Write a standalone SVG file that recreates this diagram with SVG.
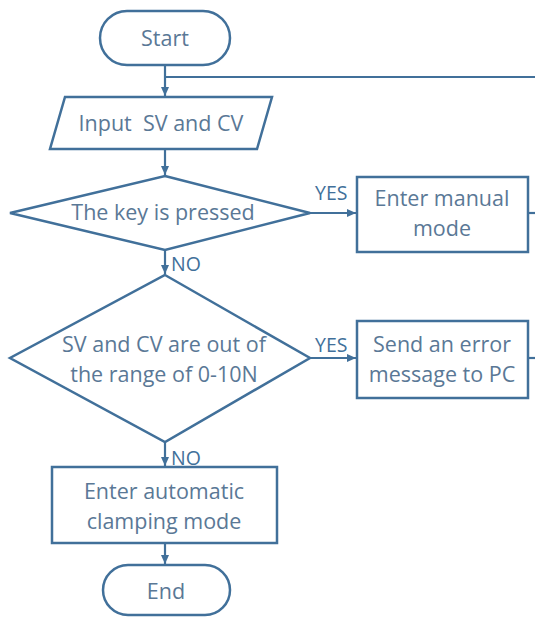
<svg xmlns="http://www.w3.org/2000/svg" width="535" height="617" viewBox="0 0 535 617">
<style>
.s{fill:#fff;stroke:#41709a;stroke-width:2.5}
.c{fill:none;stroke:#41709a;stroke-width:2.2}
.t{font-family:"Open Sans","Liberation Sans",Arial,sans-serif;font-size:21.5px;fill:#5a7896;text-anchor:middle}
.l{font-family:"Open Sans","Liberation Sans",Arial,sans-serif;font-size:19.5px;fill:#41709a}
</style>
<defs>
<marker id="a" markerWidth="10" markerHeight="10" refX="9" refY="5" orient="auto" markerUnits="userSpaceOnUse">
<path d="M0,1 L9,5 L0,9 Z" fill="#41709a"/>
</marker>
</defs>
<g id="connectors">
<line class="c" x1="165" y1="65" x2="165" y2="96" marker-end="url(#a)"/>
<line class="c" x1="165" y1="77" x2="535" y2="77"/>
<line class="c" x1="165" y1="149" x2="165" y2="175" marker-end="url(#a)"/>
<line class="c" x1="310" y1="213" x2="356" y2="213" marker-end="url(#a)"/>
<line class="c" x1="528" y1="213" x2="535" y2="213"/>
<line class="c" x1="165" y1="250" x2="165" y2="274" marker-end="url(#a)"/>
<line class="c" x1="310" y1="358" x2="356" y2="358" marker-end="url(#a)"/>
<line class="c" x1="528" y1="358" x2="535" y2="358"/>
<line class="c" x1="165" y1="442" x2="165" y2="466" marker-end="url(#a)"/>
<line class="c" x1="165" y1="543" x2="165" y2="564" marker-end="url(#a)"/>
<text class="l" x="315" y="200">YES</text>
<text class="l" x="171" y="271">NO</text>
<text class="l" x="315" y="352">YES</text>
<text class="l" x="171" y="465">NO</text>
</g>
<g id="start">
<rect class="s" x="100" y="11" width="130" height="54" rx="27"/>
<text class="t" x="165" y="46">Start</text>
</g>
<g id="input">
<polygon class="s" points="65,97 272,97 257,149 50,149"/>
<text class="t" x="161" y="131" xml:space="preserve">Input  SV and CV</text>
</g>
<g id="key">
<polygon class="s" points="165,176 310,213 165,250 10,213"/>
<text class="t" x="163" y="220">The key is pressed</text>
</g>
<g id="manual">
<rect class="s" x="357" y="177" width="171" height="75"/>
<text class="t" x="442" y="206">Enter manual</text>
<text class="t" x="442" y="236">mode</text>
</g>
<g id="range">
<polygon class="s" points="165,275 310,358 165,442 10,358"/>
<text class="t" x="164" y="352">SV and CV are out of</text>
<text class="t" x="164" y="382">the range of 0-10N</text>
</g>
<g id="error">
<rect class="s" x="357" y="321" width="171" height="77"/>
<text class="t" x="442" y="352">Send an error</text>
<text class="t" x="442" y="382">message to PC</text>
</g>
<g id="auto">
<rect class="s" x="52" y="467" width="225" height="76"/>
<text class="t" x="164" y="499">Enter automatic</text>
<text class="t" x="164" y="529">clamping mode</text>
</g>
<g id="end">
<rect class="s" x="103" y="565" width="127" height="50" rx="25"/>
<text class="t" x="166" y="599">End</text>
</g>
</svg>
